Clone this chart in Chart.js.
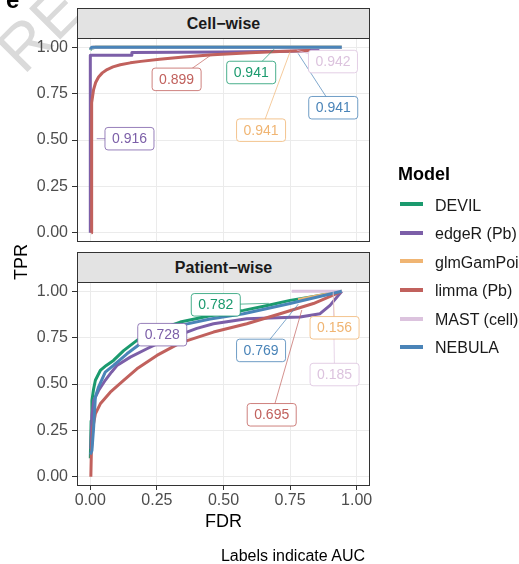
<!DOCTYPE html>
<html>
<head>
<meta charset="utf-8">
<title>FDR vs TPR</title>
<script src="https://cdn.jsdelivr.net/npm/chart.js"></script>
<style>
  body { margin: 0; background: #fff; font-family: "Liberation Sans", Arial, sans-serif; }
  #wrap { position: relative; width: 519px; height: 564px; overflow: hidden; background: #fff; }
  #wrap canvas { position: absolute; left: 0; top: 0; }
  .txt { position: absolute; white-space: nowrap; line-height: normal; transform: translateY(-50%); }
  .strip { position: absolute; left: 77px; width: 293px; height: 31px; box-sizing: border-box;
           border: 1px solid #333; background: #e3e3e3; color: #1a1a1a; font-weight: bold;
           font-size: 16px; line-height: 29px; text-align: center; }
  .key { position: absolute; left: 400px; width: 23px; height: 4px; margin-top: -2px; }
  .item { left: 435px; font-size: 16px; color: #1a1a1a; }
  #mark { position: absolute; left: 24px; top: 76px; font-size: 64px; color: #dadada;
          transform-origin: 0 0; transform: rotate(-45deg) translateY(-80%); white-space: nowrap; }
</style>
</head>
<body>
<div id="wrap">
  <div id="mark">RE</div>
  <canvas id="cellChart" width="519" height="564"></canvas>
  <canvas id="patientChart" width="519" height="564"></canvas>
  <div class="txt" style="left:6px;top:0px;font-size:24px;font-weight:bold;">e</div>
  <div class="strip" style="top:8px;">Cell−wise</div>
  <div class="strip" style="top:252px;">Patient−wise</div>
  <div class="txt" style="left:21px;top:262px;font-size:18px;transform:translate(-50%,-50%) rotate(-90deg);">TPR</div>
  <div class="txt" style="right:154px;top:555.7px;font-size:16px;">Labels indicate AUC</div>
  <div class="txt" style="left:398px;top:173.5px;font-size:18px;font-weight:bold;">Model</div>
  <div id="legend"></div>
</div>
<script>
// models and colours
const models = ['DEVIL', 'edgeR (Pb)', 'glmGamPoi', 'limma (Pb)', 'MAST (cell)', 'NEBULA'];
const colors = ['#1b9a6e', '#7c5fa8', '#f0b573', '#c1615d', '#dcc3de', '#4a84b8'];
const xTicks = [0, 0.25, 0.5, 0.75, 1];
const yTicks = [0, 0.25, 0.5, 0.75, 1];

// Cell-wise curves, [FDR, TPR]
const cellDevil = [[0,0.985],[0.004,0.995],[0.02,1],[0.944,1]];
const cellEdgeR = [[0,0],[0,0.957],[0.156,0.957],[0.156,0.972],[0.5,0.975],[0.75,0.979],[0.86,0.984]];
const cellGlmGamPoi = [[0,0.99],[0.01,1],[0.944,1]];
const cellLimma = [[0.004,0],[0.004,0.6],[0.006,0.7],[0.012,0.77],[0.02,0.81],[0.031,0.84],[0.045,0.862],
  [0.063,0.88],[0.085,0.894],[0.1125,0.906],[0.15,0.916],[0.19,0.924],[0.26,0.936],[0.35,0.948],
  [0.46,0.96],[0.6,0.97],[0.71,0.977],[0.825,0.982]];
const cellMast = [[0,0.99],[0.01,1],[0.944,1]];
const cellNebula = [[0,0.99],[0.005,1],[0.944,1]];

// Patient-wise curves, [FDR, TPR]
const patientDevil = [[0,0.1],[0.003,0.3],[0.006,0.41],[0.012,0.47],[0.019,0.52],[0.0375,0.573],[0.06,0.6],
  [0.087,0.627],[0.125,0.68],[0.175,0.735],[0.25,0.79],[0.3375,0.834],[0.45,0.868],[0.575,0.897],
  [0.66,0.922],[0.75,0.951],[0.85,0.975],[0.944,1]];
const patientEdgeR = [[0.002,0.15],[0.006,0.33],[0.0125,0.41],[0.031,0.465],[0.056,0.52],[0.08,0.565],
  [0.1,0.6],[0.15,0.645],[0.2125,0.69],[0.27,0.73],[0.3375,0.766],[0.4,0.8],[0.4625,0.825],
  [0.5875,0.852],[0.7875,0.861],[0.8625,0.879],[0.9,0.924],[0.944,1]];
const patientGlmGamPoi = [[0.78,0.955],[0.85,0.975],[0.944,1]];
const patientLimma = [[0.002,0],[0.004,0.14],[0.01,0.27],[0.019,0.339],[0.0375,0.393],[0.075,0.456],
  [0.125,0.519],[0.175,0.582],[0.25,0.654],[0.3375,0.722],[0.4625,0.78],[0.5875,0.825],
  [0.7125,0.879],[0.8375,0.934],[0.944,1]];
const patientMast = [[0.756,1],[0.944,1]];
const patientNebula = [[0,0.12],[0.006,0.14],[0.0125,0.267],[0.019,0.43],[0.03,0.48],[0.056,0.564],
  [0.087,0.6],[0.1375,0.663],[0.1875,0.717],[0.26,0.775],[0.3375,0.816],[0.45,0.85],[0.575,0.879],
  [0.75,0.934],[0.944,1]];

// AUC labels: text, box centre and leader end (data units)
const cellAuc = ['0.941', '0.916', '0.941', '0.899', '0.942', '0.941'];
const cellLabelAt = [[0.604,0.864],[0.147,0.507],[0.641,0.553],[0.324,0.827],[0.911,0.923],[0.912,0.674]];
const cellLabelTo = [[0.69,0.99],[0.024,0.507],[0.75,0.976],[0.45,0.955],[0.775,0.985],[0.78,0.967]];
const patientAuc = ['0.782', '0.728', '0.156', '0.695', '0.185', '0.769'];
const patientLabelAt = [[0.471,0.927],[0.27,0.766],[0.917,0.803],[0.681,0.334],[0.917,0.551],[0.641,0.681]];
const patientLabelTo = [[0.67,0.935],[0.27,0.766],[0.912,0.989],[0.794,0.899],[0.912,1.0],[0.781,0.931]];

Chart.defaults.font.family = '"Liberation Sans", Arial, sans-serif';

// legend (html)
var legendHtml = '';
models.forEach(function(m, i) {
  var ky = 204.3 + i * 28.55;
  legendHtml += '<div class="key" style="top:' + ky + 'px;background:' + colors[i] + '"></div>';
  legendHtml += '<div class="txt item" style="top:' + (ky + 1.2) + 'px">' + m + '</div>';
});
document.getElementById('legend').innerHTML = legendHtml;

const aucLabels = {
  id: 'aucLabels',
  afterDatasetsDraw(chart, args, opts) {
    const ctx = chart.ctx, xs = chart.scales.x, ys = chart.scales.y;
    ctx.save();
    // leader segments first
    opts.text.forEach(function(t, i) {
      ctx.beginPath();
      ctx.strokeStyle = colors[i];
      ctx.lineWidth = 0.7;
      ctx.moveTo(xs.getPixelForValue(opts.at[i][0]), ys.getPixelForValue(opts.at[i][1]));
      ctx.lineTo(xs.getPixelForValue(opts.to[i][0]), ys.getPixelForValue(opts.to[i][1]));
      ctx.stroke();
    });
    opts.text.forEach(function(t, i) {
      const cx = xs.getPixelForValue(opts.at[i][0]), cy = ys.getPixelForValue(opts.at[i][1]);
      const w = 49, h = 22.5;
      ctx.beginPath();
      ctx.roundRect(cx - w / 2, cy - h / 2, w, h, 3);
      ctx.fillStyle = '#fff';
      ctx.fill();
      ctx.strokeStyle = colors[i];
      ctx.lineWidth = 0.8;
      ctx.stroke();
      ctx.fillStyle = colors[i];
      ctx.font = '14px "Liberation Sans", Arial, sans-serif';
      ctx.textAlign = 'center';
      ctx.textBaseline = 'middle';
      ctx.fillText(t, cx, cy + 0.5);
    });
    ctx.restore();
  },
  afterDraw(chart) {
    const a = chart.chartArea, ctx = chart.ctx;
    ctx.save();
    ctx.strokeStyle = '#333';
    ctx.lineWidth = 1;
    ctx.strokeRect(a.left + 0.5, a.top + 0.5, a.width - 1, a.height - 1);
    ctx.restore();
  }
};

function makeSets(curves) {
  return curves.map(function(pts, i) {
    return {
      label: models[i],
      data: pts.map(function(p) { return {x: p[0], y: p[1]}; }),
      borderColor: colors[i],
      borderWidth: 3,
      borderJoinStyle: 'round',
      showLine: true,
      pointRadius: 0,
      tension: 0,
      order: models.length - i
    };
  });
}

function makeOptions(topPad, bottomPad, bottomAxis, labels) {
  return {
    responsive: false,
    animation: false,
    layout: { padding: { left: 0, right: 149, top: topPad, bottom: bottomPad } },
    plugins: { legend: { display: false }, tooltip: { enabled: false }, aucLabels: labels },
    scales: {
      x: {
        type: 'linear', min: -0.05, max: 1.05,
        afterBuildTicks: function(s) { s.ticks = xTicks.map(function(v) { return {value: v}; }); },
        afterFit: function(s) { s.height = bottomAxis ? 50 : 0; s.paddingLeft = 0; s.paddingRight = 0; },
        ticks: { display: bottomAxis, callback: function(v) { return v.toFixed(2); },
                 color: '#4d4d4d', font: { size: 16 }, padding: 1, maxRotation: 0 },
        grid: { color: '#ebebeb', lineWidth: 1, drawTicks: bottomAxis, tickColor: '#333', tickLength: 4, tickWidth: 1 },
        border: { display: false },
        title: { display: bottomAxis, text: 'FDR', color: '#000', font: { size: 18 }, padding: { top: 0, bottom: 3.5 } }
      },
      y: {
        type: 'linear', min: -0.05, max: 1.05,
        afterBuildTicks: function(s) { s.ticks = yTicks.map(function(v) { return {value: v}; }); },
        afterFit: function(s) { s.width = 77; s.paddingTop = 0; s.paddingBottom = 0; },
        ticks: { callback: function(v) { return v.toFixed(2); }, color: '#4d4d4d', font: { size: 16 }, padding: 4 },
        grid: { color: '#ebebeb', lineWidth: 1, tickColor: '#333', tickLength: 5, tickWidth: 1 },
        border: { display: false }
      }
    }
  };
}

new Chart(document.getElementById('cellChart'), {
  type: 'scatter',
  data: { datasets: makeSets([cellDevil, cellEdgeR, cellGlmGamPoi, cellLimma, cellMast, cellNebula]) },
  options: makeOptions(38, 322, false, { text: cellAuc, at: cellLabelAt, to: cellLabelTo }),
  plugins: [aucLabels]
});

new Chart(document.getElementById('patientChart'), {
  type: 'scatter',
  data: { datasets: makeSets([patientDevil, patientEdgeR, patientGlmGamPoi, patientLimma, patientMast, patientNebula]) },
  options: makeOptions(282, 28, true, { text: patientAuc, at: patientLabelAt, to: patientLabelTo }),
  plugins: [aucLabels]
});
</script>
</body>
</html>
